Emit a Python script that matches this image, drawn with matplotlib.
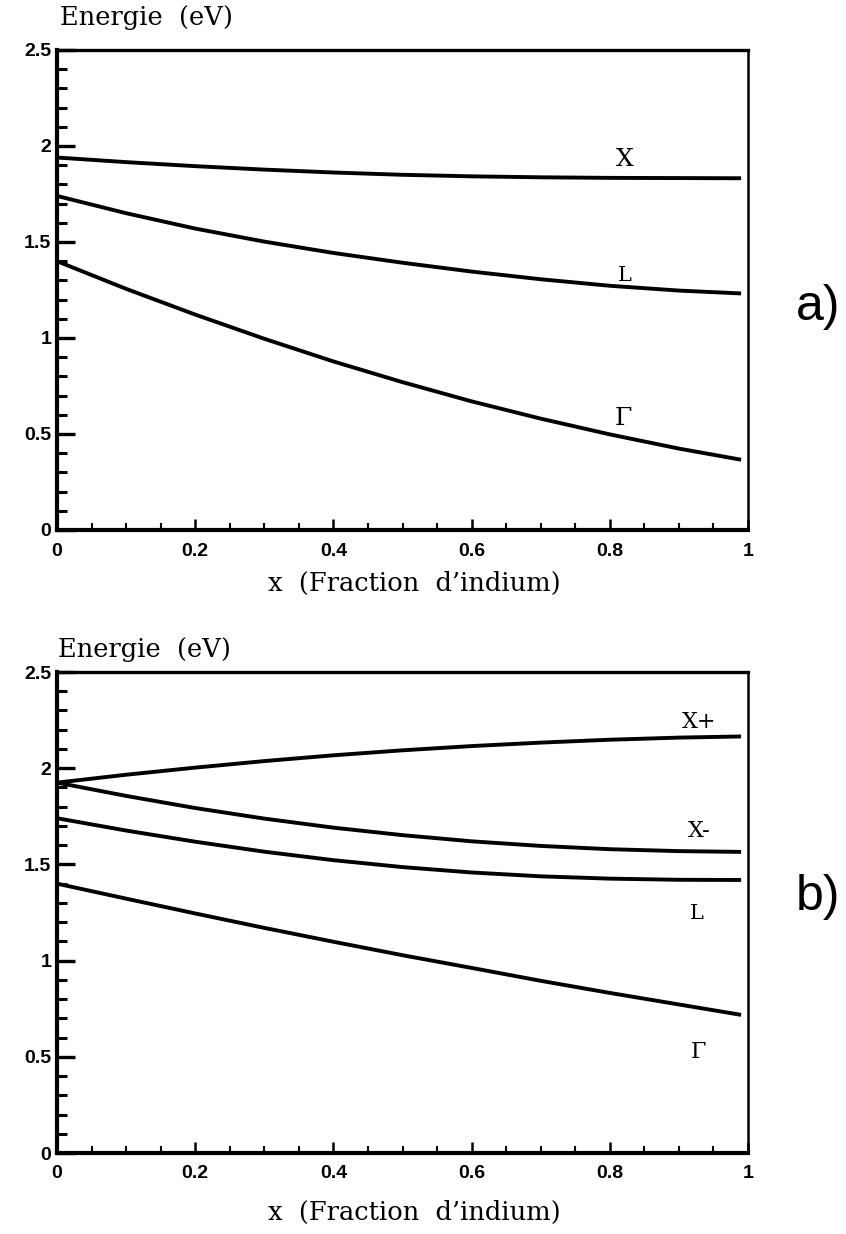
import matplotlib
matplotlib.use("Agg")
import matplotlib.pyplot as plt
from matplotlib.ticker import MultipleLocator, FixedLocator

# ---- data ----
x_frac = [0.0, 0.1, 0.2, 0.3, 0.4, 0.5, 0.6, 0.7, 0.8, 0.9, 0.99]

# panel a)
a_X     = [1.94, 1.916, 1.895, 1.877, 1.862, 1.850, 1.842, 1.837, 1.834, 1.833, 1.832]
a_L     = [1.74, 1.65, 1.57, 1.502, 1.443, 1.392, 1.346, 1.306, 1.272, 1.247, 1.232]
a_Gamma = [1.40, 1.256, 1.122, 0.996, 0.878, 0.77, 0.67, 0.58, 0.498, 0.424, 0.366]

# panel b)
b_Xp    = [1.925, 1.966, 2.003, 2.037, 2.067, 2.093, 2.115, 2.133, 2.148, 2.159, 2.165]
b_Xm    = [1.925, 1.856, 1.793, 1.738, 1.691, 1.652, 1.620, 1.596, 1.579, 1.569, 1.565]
b_L     = [1.74, 1.676, 1.618, 1.566, 1.522, 1.486, 1.458, 1.438, 1.426, 1.420, 1.419]
b_Gamma = [1.40, 1.322, 1.245, 1.170, 1.098, 1.028, 0.962, 0.895, 0.832, 0.772, 0.718]

y_ticks = [0, 0.5, 1, 1.5, 2, 2.5]
y_ticklabels = ["0", "0.5", "1", "1.5", "2", "2.5"]
x_ticks = [0, 0.2, 0.4, 0.6, 0.8, 1.0]
x_ticklabels = ["0", "0.2", "0.4", "0.6", "0.8", "1"]

ylabel_text = "Energie  (eV)"
xlabel_text = "x  (Fraction  d\u2019indium)"

# curve labels: (text, x, y, size)
labels_a = [("X", 0.822, 1.932, 18), ("L", 0.822, 1.323, 15), ("\u0393", 0.82, 0.583, 18)]
labels_b = [("X+", 0.929, 2.24, 16), ("X-", 0.93, 1.674, 16), ("L", 0.926, 1.247, 15), ("\u0393", 0.928, 0.525, 16)]

W, H = 846, 1234
fig = plt.figure(figsize=(W / 100, H / 100), dpi=100)

serif = ["DejaVu Serif"]
tickfont = dict(family="Liberation Sans", weight="bold", size=14)


def make_axes(top_px, bottom_px):
    left, right = 57, 748
    ax = fig.add_axes([left / W, 1 - bottom_px / H, (right - left) / W, (bottom_px - top_px) / H])
    ax.set_xlim(0, 1)
    ax.set_ylim(0, 2.5)
    ax.yaxis.set_major_locator(FixedLocator(y_ticks))
    ax.set_yticklabels(y_ticklabels, fontdict=tickfont)
    ax.yaxis.set_minor_locator(MultipleLocator(0.1))
    ax.xaxis.set_major_locator(FixedLocator(x_ticks))
    ax.set_xticklabels(x_ticklabels, fontdict=tickfont)
    ax.xaxis.set_minor_locator(MultipleLocator(0.05))
    ax.tick_params(axis="y", which="major", direction="in", length=13, width=2.4, pad=4)
    ax.tick_params(axis="y", which="minor", direction="in", length=7.5, width=2.2)
    ax.tick_params(axis="x", which="major", direction="in", length=8, width=1.8, pad=9)
    ax.tick_params(axis="x", which="minor", direction="in", length=5, width=1.5)
    ax.tick_params(top=False, right=False, which="both")
    ax.spines["left"].set_linewidth(3.0)
    ax.spines["bottom"].set_linewidth(3.0)
    ax.spines["top"].set_linewidth(2.4)
    ax.spines["right"].set_linewidth(1.8)
    return ax


ax_a = make_axes(50, 530)
for ys in (a_X, a_L, a_Gamma):
    ax_a.plot(x_frac, ys, color="black", lw=2.8, solid_capstyle="butt")
for t, xx, yy, s in labels_a:
    ax_a.text(xx, yy, t, family=serif, fontsize=s, ha="center", va="center")

ax_b = make_axes(672, 1153)
for ys in (b_Xp, b_Xm, b_L, b_Gamma):
    ax_b.plot(x_frac, ys, color="black", lw=2.8, solid_capstyle="butt")
for t, xx, yy, s in labels_b:
    ax_b.text(xx, yy, t, family=serif, fontsize=s, ha="center", va="center")

# y-axis titles above the axes
fig.text(60 / W, 1 - 18 / H, ylabel_text, family=serif, fontsize=18.5, ha="left", va="center")
fig.text(58 / W, 1 - 650 / H, ylabel_text, family=serif, fontsize=18.5, ha="left", va="center")

# x-axis titles
fig.text(414 / W, 1 - 583 / H, xlabel_text, family=serif, fontsize=18.5, ha="center", va="center")
fig.text(414 / W, 1 - 1212 / H, xlabel_text, family=serif, fontsize=18.5, ha="center", va="center")

# panel tags
fig.text(818 / W, 1 - 307 / H, "a)", family="Liberation Sans", fontsize=36, ha="center", va="center")
fig.text(818 / W, 1 - 897 / H, "b)", family="Liberation Sans", fontsize=36, ha="center", va="center")

fig.savefig("out.png", dpi=100)
